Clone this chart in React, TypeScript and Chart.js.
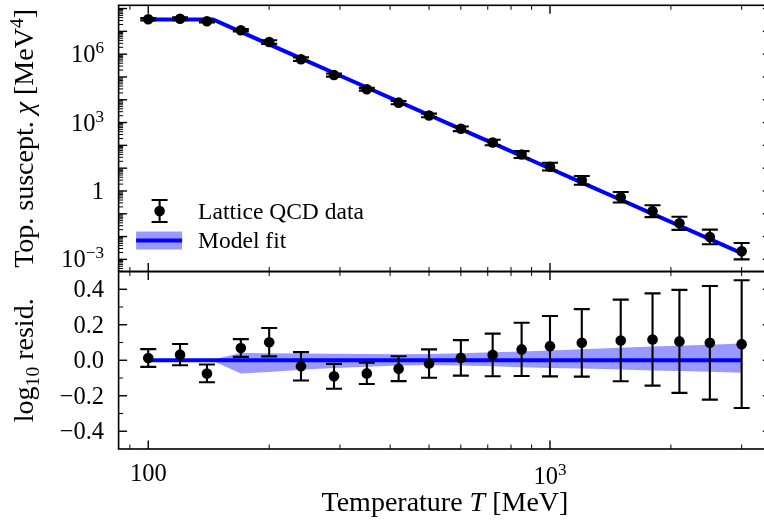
import React, { useEffect, useRef } from 'react';
import { Chart, registerables } from 'chart.js';

Chart.register(...registerables);

// Lattice temperatures (MeV)
const temperatureMeV = [100, 120, 140, 170, 200, 240, 290, 350, 420, 500, 600, 720, 850, 1000, 1200, 1500, 1800, 2100, 2500, 3000];
// Topological susceptibility from lattice QCD (MeV^4)
const chiLattice = [3.41e7, 3.56e7, 2.79e7, 1.12e7, 3.40e6, 6.01e5, 1.21e5, 2.90e4, 7.46e3, 2.05e3, 532, 134, 39.5, 11.6, 2.92, 0.530, 0.130, 0.0382, 0.00962, 0.00228];
// 1-sigma uncertainty of log10(chi), in dex
const chiErrDex = [0.05, 0.06, 0.05, 0.05, 0.08, 0.08, 0.07, 0.06, 0.07, 0.08, 0.10, 0.12, 0.15, 0.17, 0.19, 0.23, 0.26, 0.29, 0.32, 0.36];

// Fitted model on its curve grid (145 MeV is the kink between the flat and power-law parts)
const fitT = [100, 120, 140, 145, 170, 200, 240, 290, 350, 420, 500, 600, 720, 850, 1000, 1200, 1500, 1800, 2100, 2500, 3000];
const fitChi = [3.31e7, 3.31e7, 3.31e7, 3.31e7, 9.55e6, 2.69e6, 6.50e5, 1.49e5, 3.44e4, 8.32e3, 2.14e3, 516, 125, 34.3, 9.66, 2.33, 0.410, 0.0993, 0.0299, 0.00767, 0.00185];
// Fit uncertainty band, upper / lower edge in dex relative to the fit
const fitBandUpDex = [0.004, 0.004, 0.004, 0.004, 0.041, 0.040, 0.038, 0.036, 0.035, 0.034, 0.035, 0.040, 0.045, 0.050, 0.055, 0.062, 0.070, 0.077, 0.082, 0.088, 0.094];
const fitBandDownDex = [-0.004, -0.004, -0.004, -0.004, -0.075, -0.066, -0.053, -0.044, -0.037, -0.030, -0.027, -0.029, -0.034, -0.039, -0.043, -0.047, -0.052, -0.057, -0.061, -0.065, -0.070];

// Axis ranges
const xRange = [84.37, 3555.6];
const chiRange = [2.93e-4, 1.39e8];
const residRange = [-0.5, 0.5];

// Tick positions and labels
const xMajorTicks = [100, 1000];
const xMinorTicks = [90, 200, 300, 400, 500, 600, 700, 800, 900, 2000, 3000];
const xTickLabels = [
  { value: 100, base: '100', sup: '' },
  { value: 1000, base: '10', sup: '3' },
];
const chiTickLabels = [
  { value: 1e-3, base: '10', sup: '\u22123' },
  { value: 1, base: '1', sup: '' },
  { value: 1e3, base: '10', sup: '3' },
  { value: 1e6, base: '10', sup: '6' },
];
const residMajorTicks = [-0.4, -0.2, 0, 0.2, 0.4];
const residMinorTicks = [-0.3, -0.1, 0.1, 0.3];
const residTickLabels = ['\u22120.4', '\u22120.2', '0.0', '0.2', '0.4'];

const legendLabels = ['Lattice QCD data', 'Model fit'];

const FONT = '"Liberation Serif", "Times New Roman", serif';
const BLUE = '#0000ff';
const BAND = 'rgba(0, 0, 255, 0.4)';
const MARKER_R = 5.3;
const ERR_W = 2.1;
const CAP = 8;
const FIT_W = 4;

// log10 residual of each lattice point with respect to the fit
const residual = temperatureMeV.map((t, i) => Math.log10(chiLattice[i] / fitChi[fitT.indexOf(t)]));

type Seg = { text: string; italic?: boolean; scale?: number; shift?: number };

function drawSegments(ctx: CanvasRenderingContext2D, segs: Seg[], size: number, x: number, y: number, align: 'left' | 'center' | 'right') {
  const fontFor = (s: Seg) => `${s.italic ? 'italic ' : ''}${size * (s.scale ?? 1)}px ${FONT}`;
  const widths = segs.map((s) => {
    ctx.font = fontFor(s);
    return ctx.measureText(s.text).width;
  });
  const total = widths.reduce((a, b) => a + b, 0);
  let cx = align === 'left' ? x : align === 'center' ? x - total / 2 : x - total;
  ctx.textAlign = 'left';
  ctx.textBaseline = 'alphabetic';
  segs.forEach((s, i) => {
    ctx.font = fontFor(s);
    ctx.fillText(s.text, cx, y - (s.shift ?? 0) * size);
    cx += widths[i];
  });
}

function supSegs(base: string, sup: string): Seg[] {
  return sup ? [{ text: base }, { text: sup, scale: 0.7, shift: 0.37 }] : [{ text: base }];
}

const errorBarPlugin = {
  id: 'errorBars',
  beforeDatasetDraw(chart: any, args: any) {
    const ds = chart.data.datasets[args.index];
    if (!ds.errDex) return;
    const ctx: CanvasRenderingContext2D = chart.ctx;
    const xs = chart.scales.x;
    const ys = chart.scales[ds.yAxisID];
    ctx.save();
    ctx.strokeStyle = '#000';
    ctx.lineWidth = ERR_W;
    ds.data.forEach((p: any, i: number) => {
      const e = ds.errDex[i];
      const lo = ds.errInLog ? p.y / Math.pow(10, e) : p.y - e;
      const hi = ds.errInLog ? p.y * Math.pow(10, e) : p.y + e;
      const px = xs.getPixelForValue(p.x);
      const yLo = ys.getPixelForValue(lo);
      const yHi = ys.getPixelForValue(hi);
      ctx.beginPath();
      ctx.moveTo(px, yLo);
      ctx.lineTo(px, yHi);
      ctx.moveTo(px - CAP, yLo);
      ctx.lineTo(px + CAP, yLo);
      ctx.moveTo(px - CAP, yHi);
      ctx.lineTo(px + CAP, yHi);
      ctx.stroke();
    });
    ctx.restore();
  },
};

const framePlugin = {
  id: 'frameAndLabels',
  afterDraw(chart: any) {
    const ctx: CanvasRenderingContext2D = chart.ctx;
    const xs = chart.scales.x;
    const yc = chart.scales.yChi;
    const yr = chart.scales.yRes;
    const L = chart.chartArea.left;
    const R = chart.chartArea.right;
    const MAJ = 8.5;
    const MIN = 4.5;
    ctx.save();
    ctx.strokeStyle = '#000';
    ctx.fillStyle = '#000';

    const tick = (x1: number, y1: number, x2: number, y2: number, w: number) => {
      ctx.lineWidth = w;
      ctx.beginPath();
      ctx.moveTo(x1, y1);
      ctx.lineTo(x2, y2);
      ctx.stroke();
    };

    // x ticks on every horizontal spine, pointing into each panel
    const panels = [
      { top: yc.top, bottom: yc.bottom },
      { top: yr.top, bottom: yr.bottom },
    ];
    panels.forEach(({ top, bottom }) => {
      xMajorTicks.forEach((v) => {
        const px = xs.getPixelForValue(v);
        tick(px, top, px, top + MAJ, 1.4);
        tick(px, bottom, px, bottom - MAJ, 1.4);
      });
      xMinorTicks.forEach((v) => {
        if (v < xRange[0] || v > xRange[1]) return;
        const px = xs.getPixelForValue(v);
        tick(px, top, px, top + MIN, 1.0);
        tick(px, bottom, px, bottom - MIN, 1.0);
      });
    });

    // log ticks of the susceptibility panel
    const kLo = Math.ceil(Math.log10(chiRange[0]) - 1);
    const kHi = Math.floor(Math.log10(chiRange[1]));
    for (let k = kLo; k <= kHi; k++) {
      for (let m = 1; m <= 9; m++) {
        const v = m * Math.pow(10, k);
        if (v < chiRange[0] || v > chiRange[1]) continue;
        const py = yc.getPixelForValue(v);
        const len = m === 1 ? MAJ : MIN;
        const w = m === 1 ? 1.4 : 1.0;
        tick(L, py, L + len, py, w);
        tick(R, py, R - len, py, w);
      }
    }

    // residual panel ticks
    residMajorTicks.forEach((v) => {
      const py = yr.getPixelForValue(v);
      tick(L, py, L + MAJ, py, 1.4);
      tick(R, py, R - MAJ, py, 1.4);
    });
    residMinorTicks.forEach((v) => {
      const py = yr.getPixelForValue(v);
      tick(L, py, L + MIN, py, 1.0);
      tick(R, py, R - MIN, py, 1.0);
    });

    // spines
    ctx.lineWidth = 1.6;
    ctx.strokeRect(L, yc.top, R - L, yc.bottom - yc.top);
    ctx.strokeRect(L, yr.top, R - L, yr.bottom - yr.top);

    // tick labels
    const TICK = 24.5;
    const labelRight = L - 14.5;
    chiTickLabels.forEach((t) => {
      const py = yc.getPixelForValue(t.value);
      drawSegments(ctx, supSegs(t.base, t.sup), TICK, labelRight, py + 0.33 * TICK, 'right');
    });
    residMajorTicks.forEach((v, i) => {
      const py = yr.getPixelForValue(v);
      drawSegments(ctx, [{ text: residTickLabels[i] }], TICK, labelRight, py + 0.33 * TICK, 'right');
    });
    xTickLabels.forEach((t) => {
      const px = xs.getPixelForValue(t.value);
      const base = yr.bottom + 31.5 + (t.sup ? 3.5 : 0);
      drawSegments(ctx, supSegs(t.base, t.sup), TICK, px, base, 'center');
    });

    // axis titles
    const TITLE = 28;
    drawSegments(
      ctx,
      [{ text: 'Temperature ' }, { text: 'T', italic: true }, { text: ' [MeV]' }],
      TITLE,
      (L + R) / 2,
      yr.bottom + 62,
      'center'
    );
    const rotated = (segs: Seg[], cy: number) => {
      ctx.save();
      ctx.translate(33, cy);
      ctx.rotate(-Math.PI / 2);
      drawSegments(ctx, segs, TITLE, 0, 0, 'center');
      ctx.restore();
    };
    rotated(
      [
        { text: 'Top. suscept. ' },
        { text: '\u03c7', italic: true },
        { text: ' [MeV' },
        { text: '4', scale: 0.7, shift: 0.37 },
        { text: ']' },
      ],
      (yc.top + yc.bottom) / 2
    );
    rotated(
      [{ text: 'log' }, { text: '10', scale: 0.7, shift: -0.2 }, { text: ' resid.' }],
      (yr.top + yr.bottom) / 2
    );

    // legend
    const LEG = 23.5;
    const iconX = L + 41;
    const textX = L + 79.5;
    const row1 = yc.bottom - 60.5;
    const row2 = yc.bottom - 31;
    ctx.lineWidth = ERR_W;
    ctx.beginPath();
    ctx.moveTo(iconX, row1 - 11);
    ctx.lineTo(iconX, row1 + 11);
    ctx.moveTo(iconX - CAP, row1 - 11);
    ctx.lineTo(iconX + CAP, row1 - 11);
    ctx.moveTo(iconX - CAP, row1 + 11);
    ctx.lineTo(iconX + CAP, row1 + 11);
    ctx.stroke();
    ctx.beginPath();
    ctx.arc(iconX, row1, MARKER_R, 0, Math.PI * 2);
    ctx.fill();
    ctx.fillStyle = BAND;
    ctx.fillRect(iconX - 23.5, row2 - 9, 46, 18);
    ctx.strokeStyle = BLUE;
    ctx.lineWidth = FIT_W;
    ctx.beginPath();
    ctx.moveTo(iconX - 23.5, row2);
    ctx.lineTo(iconX + 22.5, row2);
    ctx.stroke();
    ctx.fillStyle = '#000';
    drawSegments(ctx, [{ text: legendLabels[0] }], LEG, textX, row1 + 7.8, 'left');
    drawSegments(ctx, [{ text: legendLabels[1] }], LEG, textX, row2 + 7.4, 'left');

    ctx.restore();
  },
};

export default function App() {
  const canvasRef = useRef<HTMLCanvasElement | null>(null);

  useEffect(() => {
    if (!canvasRef.current) return;
    const pts = (ys: number[], xsArr: number[] = temperatureMeV) => xsArr.map((x, i) => ({ x, y: ys[i] }));

    const chart = new Chart(canvasRef.current, {
      type: 'line',
      data: {
        datasets: [
          {
            label: 'chi band upper',
            yAxisID: 'yChi',
            data: pts(fitChi.map((c, i) => c * Math.pow(10, fitBandUpDex[i])), fitT),
            borderWidth: 0,
            pointRadius: 0,
            backgroundColor: BAND,
            fill: '+1',
            order: 2,
          },
          {
            label: 'chi band lower',
            yAxisID: 'yChi',
            data: pts(fitChi.map((c, i) => c * Math.pow(10, fitBandDownDex[i])), fitT),
            borderWidth: 0,
            pointRadius: 0,
            fill: false,
            order: 2,
          },
          {
            label: legendLabels[1],
            yAxisID: 'yChi',
            data: pts(fitChi, fitT),
            borderColor: BLUE,
            borderWidth: FIT_W,
            pointRadius: 0,
            fill: false,
            order: 1,
          },
          {
            label: legendLabels[0],
            yAxisID: 'yChi',
            data: pts(chiLattice),
            showLine: false,
            pointRadius: MARKER_R,
            pointBorderWidth: 0,
            pointBackgroundColor: '#000',
            errDex: chiErrDex,
            errInLog: true,
            order: 0,
          } as any,
          {
            label: 'resid band upper',
            yAxisID: 'yRes',
            data: pts(fitBandUpDex, fitT),
            borderWidth: 0,
            pointRadius: 0,
            backgroundColor: BAND,
            fill: '+1',
            order: 2,
          },
          {
            label: 'resid band lower',
            yAxisID: 'yRes',
            data: pts(fitBandDownDex, fitT),
            borderWidth: 0,
            pointRadius: 0,
            fill: false,
            order: 2,
          },
          {
            label: 'resid fit',
            yAxisID: 'yRes',
            data: pts(fitT.map(() => 0), fitT),
            borderColor: BLUE,
            borderWidth: FIT_W,
            pointRadius: 0,
            fill: false,
            order: 1,
          },
          {
            label: 'resid data',
            yAxisID: 'yRes',
            data: pts(residual),
            showLine: false,
            pointRadius: MARKER_R,
            pointBorderWidth: 0,
            pointBackgroundColor: '#000',
            errDex: chiErrDex,
            errInLog: false,
            order: 0,
          } as any,
        ],
      },
      options: {
        animation: false,
        responsive: false,
        devicePixelRatio: 1,
        events: [],
        layout: { padding: { left: 118.6, right: 18.7, top: 4.3, bottom: 71 } },
        elements: { line: { tension: 0 } },
        plugins: { legend: { display: false }, tooltip: { enabled: false } },
        scales: {
          x: { type: 'logarithmic', min: xRange[0], max: xRange[1], display: false },
          yRes: {
            type: 'linear',
            position: 'left',
            stack: 'panels',
            stackWeight: 2,
            min: residRange[0],
            max: residRange[1],
            display: false,
          },
          yChi: {
            type: 'logarithmic',
            position: 'left',
            stack: 'panels',
            stackWeight: 3,
            min: chiRange[0],
            max: chiRange[1],
            display: false,
          },
        },
      } as any,
      plugins: [errorBarPlugin, framePlugin],
    });

    return () => chart.destroy();
  }, []);

  return (
    <div
      style={{
        position: 'fixed',
        left: 0,
        top: 0,
        width: 764,
        height: 520,
        overflow: 'hidden',
        background: '#ffffff',
      }}
    >
      <canvas ref={canvasRef} width={790} height={520} style={{ display: 'block', width: 790, height: 520 }} />
    </div>
  );
}
